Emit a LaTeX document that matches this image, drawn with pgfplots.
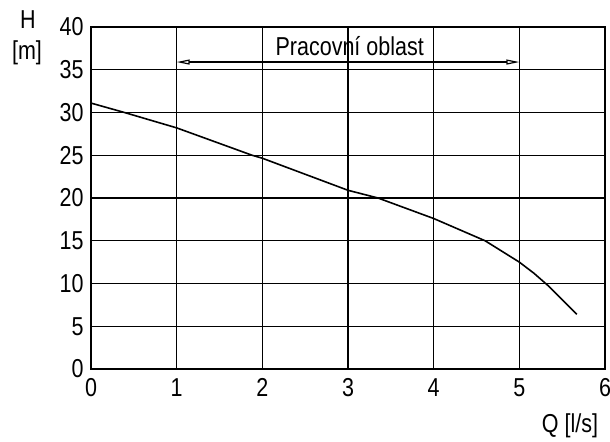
\documentclass[border=0pt]{standalone}
\usepackage{fontspec}
\setmainfont{Liberation Sans}[FakeStretch=0.83]
\usepackage{pgfplots}
\pgfplotsset{compat=1.18}
\usetikzlibrary{arrows.meta}
\begin{document}
\begin{tikzpicture}[x=1bp,y=1bp]
\path[use as bounding box] (0,0) rectangle (610,442);
\begin{axis}[
  at={(91bp,73bp)}, anchor=south west,
  scale only axis, width=514bp, height=342bp,
  xmin=0, xmax=6, ymin=0, ymax=40,
  xtick={0,1,...,6}, ytick={0,5,...,40},
  major tick length=0pt,
  grid=major,
  major grid style={black, line width=1.2pt},
  axis line style={black, line width=1.2pt},
  tick label style={font=\fontsize{26}{28}\selectfont},
  /pgf/number format/assume math mode=true,
  xticklabel style={yshift=-6bp},
  yticklabel style={xshift=-4bp},
  clip=false,
]
\addplot[black, line width=1.6pt, line join=round] coordinates {
(0,31.1) (0.39,30) (1,28.2) (1.88,25) (2,24.65) (3,20.9) (3.35,20) (4,17.6) (4.6,15) (5,12.5) (5.17,11.2) (5.33,9.8) (5.67,6.4)
};
\draw[line width=1.2pt, {Triangle[open,length=13bp,width=5bp]}-{Triangle[open,length=13bp,width=5bp]}] (axis cs:1,35.9) -- (axis cs:5,35.9);
\node[font=\fontsize{26}{28}\selectfont] at (axis cs:3.02,37.8) {Pracovní oblast};
\end{axis}
\node[font=\fontsize{26}{28}\selectfont] at (28,422) {H};
\node[font=\fontsize{26}{28}\selectfont] at (27,389) {[m]};
\node[font=\fontsize{26}{28}\selectfont] at (570,16) {Q [l/s]};
\end{tikzpicture}
\end{document}
